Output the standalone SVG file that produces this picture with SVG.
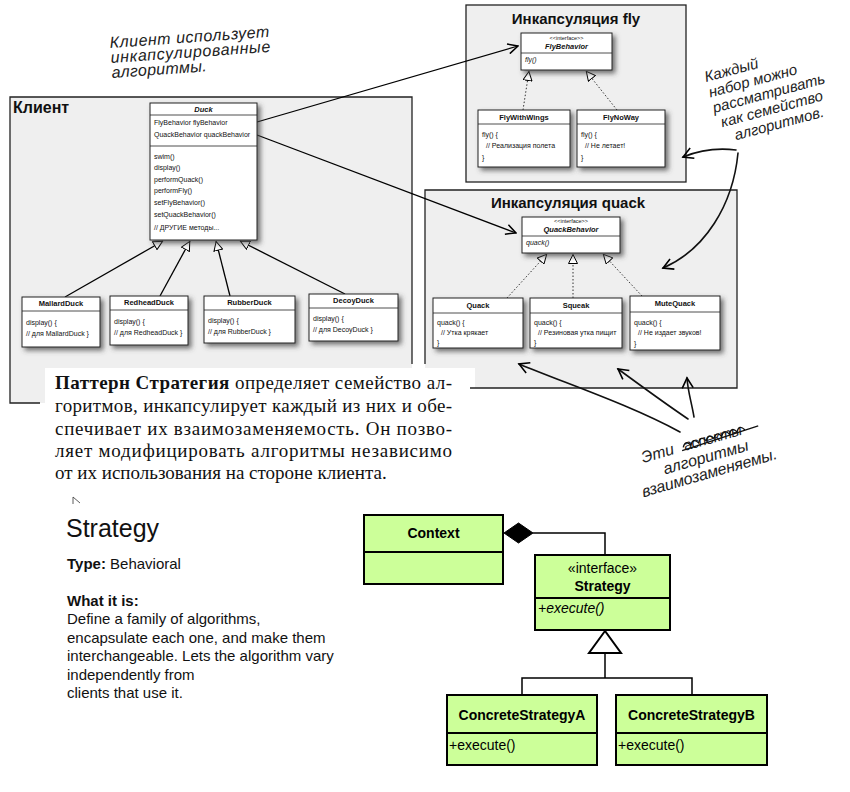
<svg xmlns="http://www.w3.org/2000/svg" width="850" height="792" viewBox="0 0 850 792">
<style>
.hand{font-family:"Liberation Sans","DejaVu Sans",sans-serif;font-style:italic;font-size:15px;fill:#222}
.sm{font-family:"Liberation Sans Narrow","Liberation Sans",Arial,sans-serif;font-size:7px;fill:#111}
.smb{font-family:"Liberation Sans Narrow","Liberation Sans",Arial,sans-serif;font-size:7.5px;font-weight:bold;fill:#111}
.tiny{font-family:"Liberation Sans Narrow","Liberation Sans",Arial,sans-serif;font-size:5.5px;fill:#111}
.cls{fill:#fff;stroke:#222;stroke-width:1;filter:url(#sh)}
.sep{stroke:#222;stroke-width:0.8}
.cont{fill:#efefef;stroke:none}
.bord{fill:none;stroke:#222;stroke-width:1.3}
.ttl{font-family:"Liberation Sans",Arial,sans-serif;font-weight:bold;font-size:15px;fill:#111}
.para{font-family:"Liberation Serif","Times New Roman",serif;font-size:19px;fill:#111}
.uml{fill:#ccff99;stroke:#000;stroke-width:2}
.ut{font-family:"Liberation Sans",Arial,sans-serif;font-size:14px;fill:#000}
.info{font-family:"Liberation Sans",Arial,sans-serif;font-size:15px;fill:#111}
.big{font-family:"Liberation Sans",Arial,sans-serif;font-size:25px;fill:#111}
.ln{fill:none;stroke:#000;stroke-width:1.3}
.dot{fill:none;stroke:#333;stroke-width:1;stroke-dasharray:1.5 2}
.hl{fill:none;stroke:#111;stroke-width:1.6;stroke-linecap:round}
</style>
<defs>
<filter id="sh" x="-20%" y="-20%" width="150%" height="150%">
<feDropShadow dx="3" dy="3" stdDeviation="2.5" flood-color="#444" flood-opacity="0.75"/>
</filter>
<marker id="tri" viewBox="0 0 10 10" refX="10" refY="5" markerWidth="10" markerHeight="10" markerUnits="userSpaceOnUse" orient="auto">
<path d="M0.5,0.5 L9.5,5 L0.5,9.5 z" fill="#fff" stroke="#000" stroke-width="1"/>
</marker>
<marker id="open" viewBox="0 0 12 12" refX="11" refY="6" markerWidth="12" markerHeight="12" markerUnits="userSpaceOnUse" orient="auto">
<path d="M1,1 L11,6 L1,11" fill="none" stroke="#000" stroke-width="1.5"/>
</marker>
<marker id="hand" viewBox="0 0 14 14" refX="12" refY="7" markerWidth="14" markerHeight="14" markerUnits="userSpaceOnUse" orient="auto">
<path d="M2,1.5 L12,7 L2,12.5" fill="none" stroke="#000" stroke-width="1.6"/>
</marker>
</defs>

<rect width="850" height="792" fill="#fff"/>

<!-- containers -->
<g id="client">
<rect class="cont" x="10" y="97" width="402" height="306"/>
<rect x="45" y="368" width="430" height="132" fill="#fff"/>
<path class="bord" d="M40,403 H10 V97 H412 V364"/>
<text class="ttl" x="13" y="113" style="font-size:16px">Клиент</text>
</g>
<g id="fly-encap">
<rect class="cont" x="466" y="5" width="220" height="177"/>
<rect class="bord" x="466" y="5" width="220" height="177"/>
<text class="ttl" x="576" y="24" text-anchor="middle">Инкапсуляция fly</text>
</g>
<g id="quack-encap">
<path class="cont" d="M425,190 H737 V388 H475 V368 H425 z"/>
<path class="bord" d="M425,364 V190 H737 V388 H470"/>
<text class="ttl" x="568" y="208" text-anchor="middle">Инкапсуляция quack</text>
</g>

<!-- connectors -->
<g id="connectors">
<line class="ln" x1="65" y1="297" x2="163" y2="241" marker-end="url(#tri)"/>
<line class="ln" x1="160" y1="296" x2="190" y2="241" marker-end="url(#tri)"/>
<line class="ln" x1="230" y1="296" x2="216" y2="241" marker-end="url(#tri)"/>
<line class="ln" x1="345" y1="294" x2="240" y2="241" marker-end="url(#tri)"/>
<line class="ln" x1="257" y1="122" x2="518" y2="46" marker-end="url(#open)"/>
<line class="ln" x1="257" y1="135" x2="516" y2="233" marker-end="url(#open)"/>
<line class="dot" x1="523" y1="110" x2="529" y2="71" marker-end="url(#tri)"/>
<line class="dot" x1="617" y1="110" x2="586" y2="71" marker-end="url(#tri)"/>
<line class="dot" x1="507" y1="298" x2="547" y2="254" marker-end="url(#tri)"/>
<line class="dot" x1="573" y1="298" x2="573" y2="254" marker-end="url(#tri)"/>
<line class="dot" x1="642" y1="296" x2="603" y2="254" marker-end="url(#tri)"/>
<path class="hl" d="M736,150 C720,148 700,150 683,157" marker-end="url(#hand)"/>
<path class="hl" d="M738,153 C733,205 705,250 663,268" marker-end="url(#hand)"/>
<path class="hl" d="M680,432 C630,405 570,385 519,364" marker-end="url(#hand)"/>
<path class="hl" d="M688,419 C660,400 640,385 618,369" marker-end="url(#hand)"/>
<path class="hl" d="M694,417 C691,400 688,392 687,378" marker-end="url(#hand)"/>
<path d="M533,533 H605 V555" fill="none" stroke="#000" stroke-width="1.5"/>
<polygon points="504,533 518.5,523 533,533 518.5,543" fill="#000" stroke="#000"/>
<path d="M605,653 V678 M522,695 V678 H692 V695" fill="none" stroke="#000" stroke-width="1.5"/>
<polygon points="605,631 589,653 621,653" fill="#fff" stroke="#000" stroke-width="2"/>
</g>

<!-- Duck -->
<g id="duck">
<rect class="cls" x="150" y="103" width="107" height="137"/>
<text class="smb" x="203.5" y="112" text-anchor="middle" font-style="italic">Duck</text>
<line class="sep" x1="150" y1="115" x2="257" y2="115"/>
<text class="sm" x="154" y="125">FlyBehavior flyBehavior</text>
<text class="sm" x="154" y="137">QuackBehavior quackBehavior</text>
<line class="sep" x1="150" y1="146" x2="257" y2="146"/>
<text class="sm" x="154" y="159">swim()</text>
<text class="sm" x="154" y="170">display()</text>
<text class="sm" x="154" y="182">performQuack()</text>
<text class="sm" x="154" y="193">performFly()</text>
<text class="sm" x="154" y="205">setFlyBehavior()</text>
<text class="sm" x="154" y="217">setQuackBehavior()</text>
<text class="sm" x="154" y="230">// ДРУГИЕ методы...</text>
</g>

<g id="mallard">
<rect class="cls" x="22" y="297" width="78" height="50"/>
<text class="smb" x="61" y="306" text-anchor="middle">MallardDuck</text>
<line class="sep" x1="22" y1="311" x2="100" y2="311"/>
<text class="sm" x="26" y="325">display() {</text>
<text class="sm" x="26" y="336">// для MallardDuck }</text>
</g>
<g id="redhead">
<rect class="cls" x="110" y="296" width="78" height="49"/>
<text class="smb" x="149" y="305" text-anchor="middle">RedheadDuck</text>
<line class="sep" x1="110" y1="310" x2="188" y2="310"/>
<text class="sm" x="114" y="324">display() {</text>
<text class="sm" x="114" y="335">// для RedheadDuck }</text>
</g>
<g id="rubber">
<rect class="cls" x="204" y="296" width="91" height="47"/>
<text class="smb" x="249.5" y="305" text-anchor="middle">RubberDuck</text>
<line class="sep" x1="204" y1="310" x2="295" y2="310"/>
<text class="sm" x="208" y="323">display() {</text>
<text class="sm" x="208" y="334">// для RubberDuck }</text>
</g>
<g id="decoy">
<rect class="cls" x="309" y="294" width="89" height="47"/>
<text class="smb" x="353.5" y="303" text-anchor="middle">DecoyDuck</text>
<line class="sep" x1="309" y1="308" x2="398" y2="308"/>
<text class="sm" x="313" y="321">display() {</text>
<text class="sm" x="313" y="332">// для  DecoyDuck }</text>
</g>

<!-- Fly -->
<g id="flybehavior">
<rect class="cls" x="521" y="33" width="91" height="37"/>
<text class="tiny" x="566.5" y="40" text-anchor="middle">&lt;&lt;interface&gt;&gt;</text>
<text class="smb" x="566.5" y="49" text-anchor="middle" font-style="italic">FlyBehavior</text>
<line class="sep" x1="521" y1="53" x2="612" y2="53"/>
<text class="sm" x="525" y="62" font-style="italic">fly()</text>
</g>
<g id="flywithwings">
<rect class="cls" x="478" y="110" width="92" height="57"/>
<text class="smb" x="524" y="120" text-anchor="middle">FlyWithWings</text>
<line class="sep" x1="478" y1="124" x2="570" y2="124"/>
<text class="sm" x="482" y="137">fly() {</text>
<text class="sm" x="486" y="148">// Реализация полета</text>
<text class="sm" x="482" y="160">}</text>
</g>
<g id="flynoway">
<rect class="cls" x="577" y="110" width="88" height="57"/>
<text class="smb" x="621" y="120" text-anchor="middle">FlyNoWay</text>
<line class="sep" x1="577" y1="124" x2="665" y2="124"/>
<text class="sm" x="581" y="137">fly() {</text>
<text class="sm" x="585" y="148">// Не летает!</text>
<text class="sm" x="581" y="160">}</text>
</g>

<!-- Quack -->
<g id="quackbehavior">
<rect class="cls" x="522" y="217" width="98" height="36"/>
<text class="tiny" x="571" y="223" text-anchor="middle">&lt;&lt;interface&gt;&gt;</text>
<text class="smb" x="571" y="232" text-anchor="middle" font-style="italic">QuackBehavior</text>
<line class="sep" x1="522" y1="236" x2="620" y2="236"/>
<text class="sm" x="526" y="245" font-style="italic">quack()</text>
</g>
<g id="quack">
<rect class="cls" x="433" y="298" width="90" height="50"/>
<text class="smb" x="478" y="308" text-anchor="middle">Quack</text>
<line class="sep" x1="433" y1="313" x2="523" y2="313"/>
<text class="sm" x="437" y="325">quack() {</text>
<text class="sm" x="441" y="335">// Утка крякает</text>
<text class="sm" x="437" y="345">}</text>
</g>
<g id="squeak">
<rect class="cls" x="530" y="298" width="92" height="50"/>
<text class="smb" x="576" y="308" text-anchor="middle">Squeak</text>
<line class="sep" x1="530" y1="313" x2="622" y2="313"/>
<text class="sm" x="534" y="325">quack() {</text>
<text class="sm" x="538" y="335">// Резиновая утка пищит</text>
<text class="sm" x="534" y="345">}</text>
</g>
<g id="mutequack">
<rect class="cls" x="630" y="296" width="90" height="54"/>
<text class="smb" x="675" y="306" text-anchor="middle">MuteQuack</text>
<line class="sep" x1="630" y1="312" x2="720" y2="312"/>
<text class="sm" x="634" y="325">quack() {</text>
<text class="sm" x="638" y="335">// Не издает звуков!</text>
<text class="sm" x="634" y="346">}</text>
</g>

<!-- handwriting -->
<g id="note-client" transform="rotate(-4 110 48)">
<text class="hand" x="110" y="48" textLength="160" style="font-size:16px">Клиент использует</text>
<text class="hand" x="110" y="63" textLength="160" style="font-size:16px">инкапсулированные</text>
<text class="hand" x="110" y="78" textLength="95" style="font-size:16px">алгоритмы.</text>
</g>
<g id="note-family" transform="rotate(-15 706 82)">
<text class="hand" x="706" y="82">Каждый</text>
<text class="hand" x="706" y="98">набор можно</text>
<text class="hand" x="706" y="114">рассматривать</text>
<text class="hand" x="710" y="130">как семейство</text>
<text class="hand" x="720" y="146">алгоритмов.</text>
</g>
<g id="note-interchange" transform="rotate(-16 643 463)">
<text class="hand" x="643" y="463" style="font-size:16px">Эти</text>
<text class="hand" x="687" y="463" textLength="60" style="font-size:15px">аспекты</text>
<text class="hand" x="661" y="480" textLength="88" style="font-size:16px">алгоритмы</text>
<text class="hand" x="634" y="496" textLength="140" style="font-size:16px">взаимозаменяемы.</text>
<path d="M686,459 q4,-7 8,0 q4,-7 8,0 q4,-7 8,0 q4,-7 8,0 q4,-7 8,0 q4,-7 8,0 q4,-7 8,0 q4,-7 8,0 M684,462 L764,459" fill="none" stroke="#111" stroke-width="1.3"/>
</g>

<!-- paragraph -->
<g id="definition">
<text class="para" x="55" y="389" textLength="397" lengthAdjust="spacing"><tspan font-weight="bold">Паттерн Стратегия</tspan> определяет семейство ал-</text>
<text class="para" x="55" y="412" textLength="397" lengthAdjust="spacing">горитмов, инкапсулирует каждый из них и обе-</text>
<text class="para" x="55" y="435" textLength="397" lengthAdjust="spacing">спечивает их взаимозаменяемость. Он позво-</text>
<text class="para" x="55" y="457" textLength="397" lengthAdjust="spacing">ляет модифицировать алгоритмы независимо</text>
<text class="para" x="55" y="479">от их использования на стороне клиента.</text>
<path d="M73,504 V497 L80,503" fill="none" stroke="#333" stroke-width="0.8"/>
</g>

<!-- info -->
<g id="info">
<text class="big" x="66" y="537">Strategy</text>
<text class="info" x="67" y="569"><tspan font-weight="bold">Type:</tspan> Behavioral</text>
<text class="info" x="67" y="606" font-weight="bold">What it is:</text>
<text class="info" x="67" y="624">Define a family of algorithms,</text>
<text class="info" x="67" y="643">encapsulate each one, and make them</text>
<text class="info" x="67" y="661">interchangeable. Lets the algorithm vary</text>
<text class="info" x="67" y="680">independently from</text>
<text class="info" x="67" y="698">clients that use it.</text>
</g>

<!-- UML -->
<g id="context">
<rect class="uml" x="364" y="515" width="139" height="69"/>
<line x1="364" y1="552" x2="503" y2="552" stroke="#000" stroke-width="2"/>
<text class="ut" x="433.5" y="538" text-anchor="middle" font-weight="bold">Context</text>
</g>
<g id="strategy">
<rect class="uml" x="535" y="555" width="135" height="75"/>
<line x1="535" y1="598" x2="670" y2="598" stroke="#000" stroke-width="2"/>
<text class="ut" x="602.5" y="573" text-anchor="middle">«interface»</text>
<text class="ut" x="602.5" y="591" text-anchor="middle" font-weight="bold">Strategy</text>
<text class="ut" x="538" y="613" font-style="italic">+execute()</text>
</g>
<g id="concreteA">
<rect class="uml" x="447" y="695" width="150" height="70"/>
<line x1="447" y1="733" x2="597" y2="733" stroke="#000" stroke-width="2"/>
<text class="ut" x="522" y="720" text-anchor="middle" font-weight="bold">ConcreteStrategyA</text>
<text class="ut" x="449" y="750">+execute()</text>
</g>
<g id="concreteB">
<rect class="uml" x="616" y="695" width="151" height="70"/>
<line x1="616" y1="733" x2="767" y2="733" stroke="#000" stroke-width="2"/>
<text class="ut" x="691.5" y="720" text-anchor="middle" font-weight="bold">ConcreteStrategyB</text>
<text class="ut" x="618" y="750">+execute()</text>
</g>
</svg>
